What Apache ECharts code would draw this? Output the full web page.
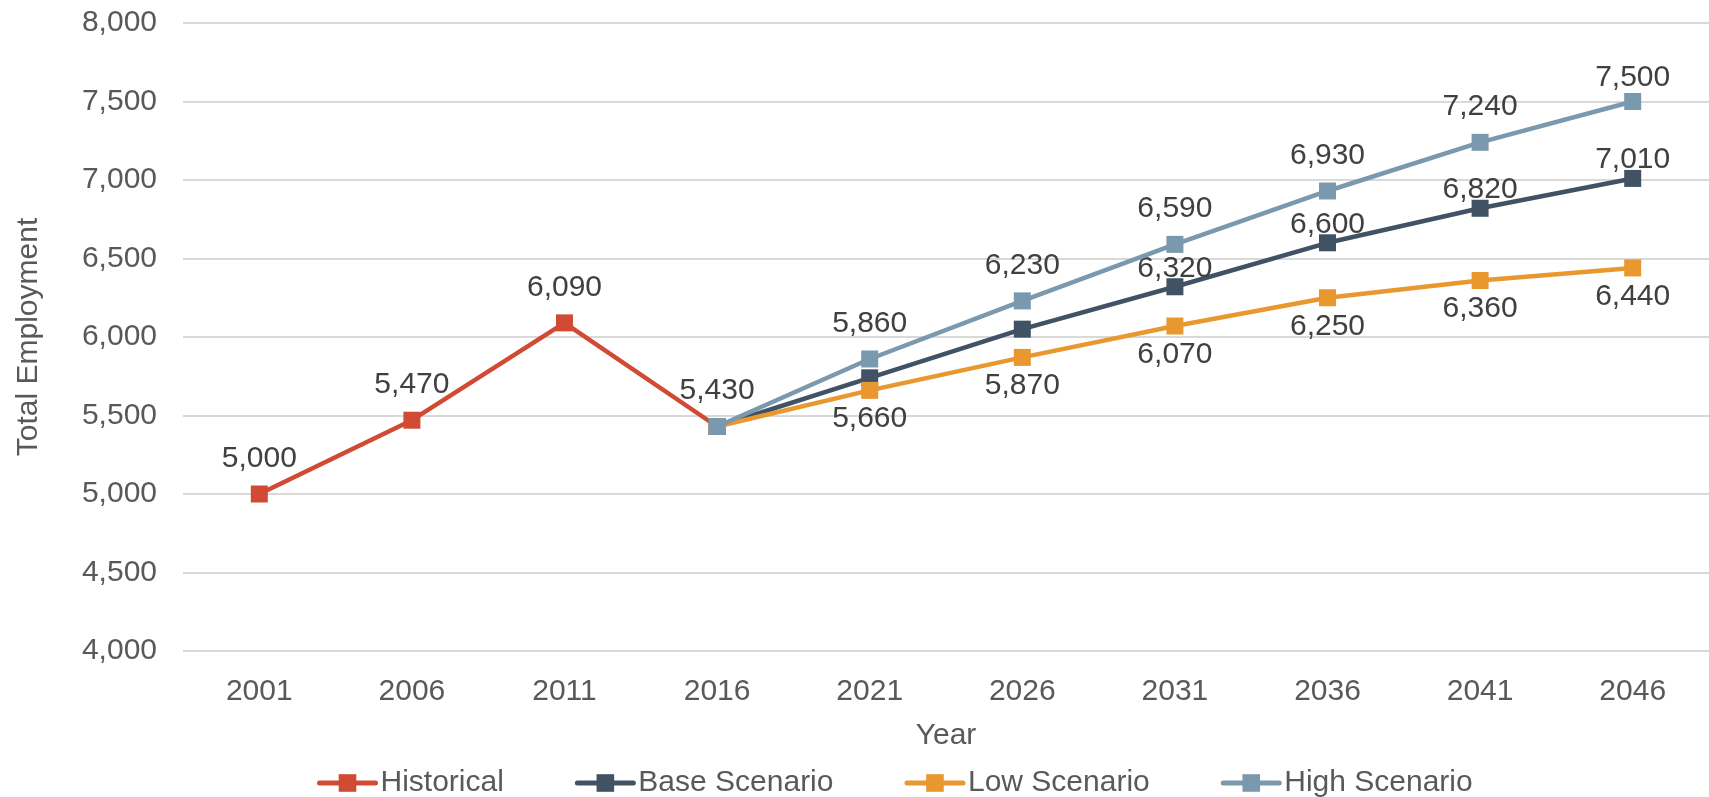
<!DOCTYPE html>
<html><head><meta charset="utf-8">
<script src="https://cdn.jsdelivr.net/npm/echarts@6/dist/echarts.min.js"></script>
<style>html,body{margin:0;padding:0;background:#fff}#c{width:1709px;height:797px}</style>
</head><body><div id="c"></div>
<script>
const years = ['2001','2006','2011','2016','2021','2026','2031','2036','2041','2046'];
const historical   = [5000, 5470, 6090, 5430, null, null, null, null, null, null];
const baseScenario = [null, null, null, 5430, 5740, 6050, 6320, 6600, 6820, 7010];
const lowScenario  = [null, null, null, 5430, 5660, 5870, 6070, 6250, 6360, 6440];
const highScenario = [null, null, null, 5430, 5860, 6230, 6590, 6930, 7240, 7500];
const seriesNames = ['Historical', 'Base Scenario', 'Low Scenario', 'High Scenario'];
const yMin = 4000, yMax = 8000, yStep = 500;

// indices whose data labels are not shown
const hiddenLabels = { 'Historical': [], 'Base Scenario': [3, 4, 5], 'Low Scenario': [3], 'High Scenario': [3] };
// per-point label distance overrides (styling)
const labelDistanceOverride = { 'High Scenario': { 9: 0 } };

const FONT = '"Liberation Sans", Arial, sans-serif';
const colors = ['#D04A34', '#405264', '#E8982E', '#7A98AE'];
const labelPos = [
  { position: 'top', distance: 12 },
  { position: 'top', distance: -5 },
  { position: 'bottom', distance: 5 },
  { position: 'top', distance: 12 }
];

function build(name, values, idx) {
  const hidden = hiddenLabels[name];
  const over = labelDistanceOverride[name] || {};
  return {
    name: name,
    type: 'line',
    data: values.map((v, i) => {
      if (hidden.includes(i)) return { value: v, label: { show: false } };
      if (over[i] !== undefined) return { value: v, label: { distance: over[i] } };
      return v;
    }),
    symbol: 'rect',
    symbolSize: 17,
    showAllSymbol: true,
    connectNulls: false,
    lineStyle: { width: 4.5, color: colors[idx] },
    itemStyle: { color: colors[idx] },
    label: {
      show: true,
      position: labelPos[idx].position,
      distance: labelPos[idx].distance,
      fontFamily: FONT, fontSize: 30, color: '#404040',
      formatter: p => p.value == null ? '' : Number(p.value).toLocaleString('en-US')
    },
    z: 2 + idx
  };
}

const chart = echarts.init(document.getElementById('c'), null, { renderer: 'canvas' });
chart.setOption({
  animation: false,
  backgroundColor: '#ffffff',
  color: colors,
  grid: { left: 183, right: -14, top: 23, bottom: 146, containLabel: false },
  legend: {
    data: seriesNames,
    left: 312, top: 763,
    itemWidth: 56, itemHeight: 22, itemGap: 71,
    lineStyle: { width: 5, cap: 'round' },
    textStyle: { fontFamily: FONT, fontSize: 30, color: '#595959' }
  },
  xAxis: {
    type: 'category',
    data: years,
    boundaryGap: true,
    name: 'Year',
    nameLocation: 'middle',
    nameGap: 70,
    nameTextStyle: { fontFamily: FONT, fontSize: 30, color: '#595959' },
    axisLine: { show: false },
    axisTick: { show: false },
    axisLabel: { fontFamily: FONT, fontSize: 30, color: '#595959', margin: 26 }
  },
  yAxis: {
    type: 'value',
    min: yMin, max: yMax, interval: yStep,
    name: 'Total Employment',
    nameLocation: 'middle',
    nameGap: 139,
    nameTextStyle: { fontFamily: FONT, fontSize: 30, color: '#595959' },
    axisLine: { show: false },
    axisTick: { show: false },
    splitLine: { lineStyle: { color: '#D9D9D9', width: 2 } },
    axisLabel: { fontFamily: FONT, fontSize: 30, color: '#595959', margin: 26,
      formatter: v => Number(v).toLocaleString('en-US') }
  },
  series: [
    build(seriesNames[0], historical, 0),
    build(seriesNames[1], baseScenario, 1),
    build(seriesNames[2], lowScenario, 2),
    build(seriesNames[3], highScenario, 3)
  ]
});
</script></body></html>
